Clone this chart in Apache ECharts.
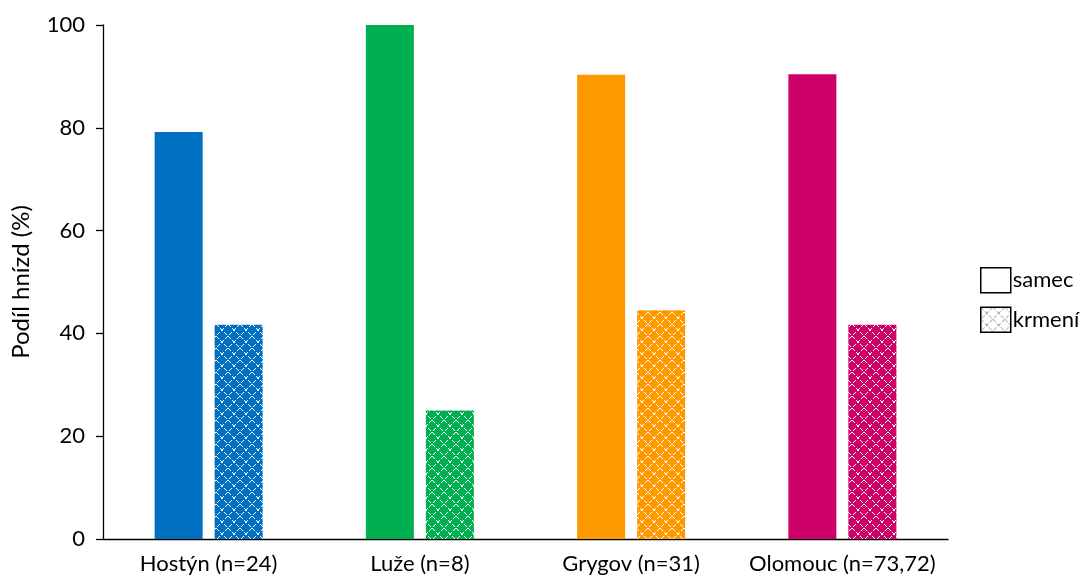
<!DOCTYPE html>
<html>
<head>
<meta charset="utf-8">
<script src="https://cdn.jsdelivr.net/npm/echarts@6/dist/echarts.min.js"></script>
<style>
html,body{margin:0;padding:0;background:#fff;}
#chart{width:1083px;height:583px;}
</style>
</head>
<body>
<div id="chart"></div>
<script>
const categories = ['Hostýn (n=24)', 'Luže (n=8)', 'Grygov (n=31)', 'Olomouc (n=73,72)'];
const samecValues = [79.2, 100, 90.3, 90.4];
const krmeniValues = [41.7, 25.0, 44.5, 41.7];
const siteColors = ['#0070C0', '#00B050', '#FF9900', '#CC0066'];
const seriesNames = ['samec', 'krmení'];
const yTicks = [0, 20, 40, 60, 80, 100];

function makePattern(bg, fg) {
  const c = document.createElement('canvas');
  const s = 12;
  c.width = s; c.height = s;
  const ctx = c.getContext('2d');
  ctx.fillStyle = bg;
  ctx.fillRect(0, 0, s, s);
  ctx.fillStyle = fg;
  for (let i = 0; i < s; i++) {
    if (i % 4 === 3) continue;
    ctx.fillRect(i, i, 1, 1);
    ctx.fillRect(s - 1 - i, i, 1, 1);
  }
  return { image: c, repeat: 'repeat' };
}

const FONT = 'Lato, "Liberation Sans", sans-serif';
const chart = echarts.init(document.getElementById('chart'), null, { renderer: 'canvas' });

chart.setOption({
  animation: false,
  backgroundColor: '#ffffff',
  textStyle: { fontFamily: FONT },
  grid: { left: 103, right: 135, top: 25, bottom: 44, containLabel: false },
  legend: {
    orient: 'vertical',
    left: 975,
    top: 262,
    itemWidth: 30,
    itemHeight: 25,
    itemGap: 13,
    textStyle: { fontSize: 22, color: '#000', fontFamily: FONT, padding: [0, 0, 0, -3] },
    data: [
      { name: seriesNames[0], icon: 'rect', itemStyle: { color: '#ffffff', borderColor: '#000', borderWidth: 1.5 } },
      { name: seriesNames[1], icon: 'rect', itemStyle: { color: makePattern('#ffffff', '#9a9a9a'), borderColor: '#000', borderWidth: 1.5 } }
    ]
  },
  xAxis: {
    type: 'category',
    data: categories,
    axisLine: { show: true, lineStyle: { color: '#000', width: 1.3 } },
    axisTick: { show: false },
    axisLabel: { color: '#000', fontSize: 22, margin: 14, interval: 0, fontFamily: FONT }
  },
  yAxis: {
    type: 'value',
    min: yTicks[0],
    max: yTicks[yTicks.length - 1],
    interval: 20,
    name: 'Podíl hnízd (%)',
    nameLocation: 'middle',
    nameGap: 70,
    nameTextStyle: { color: '#000', fontSize: 24, fontFamily: FONT },
    axisLine: { show: true, lineStyle: { color: '#000', width: 1.3 } },
    axisTick: { show: true, inside: false, length: 7, lineStyle: { color: '#000', width: 1.3 } },
    splitLine: { show: false },
    axisLabel: { color: '#000', fontSize: 22, margin: 18, fontFamily: FONT }
  },
  series: [
    {
      name: seriesNames[0],
      type: 'bar',
      barWidth: 48,
      barGap: '25%',
      itemStyle: { color: '#ffffff' },
      data: samecValues.map((v, i) => ({ value: v, itemStyle: { color: siteColors[i] } }))
    },
    {
      name: seriesNames[1],
      type: 'bar',
      barWidth: 48,
      barGap: '25%',
      itemStyle: { color: '#ffffff' },
      data: krmeniValues.map((v, i) => ({ value: v, itemStyle: { color: makePattern(siteColors[i], '#ffffff') } }))
    }
  ]
});
</script>
</body>
</html>
